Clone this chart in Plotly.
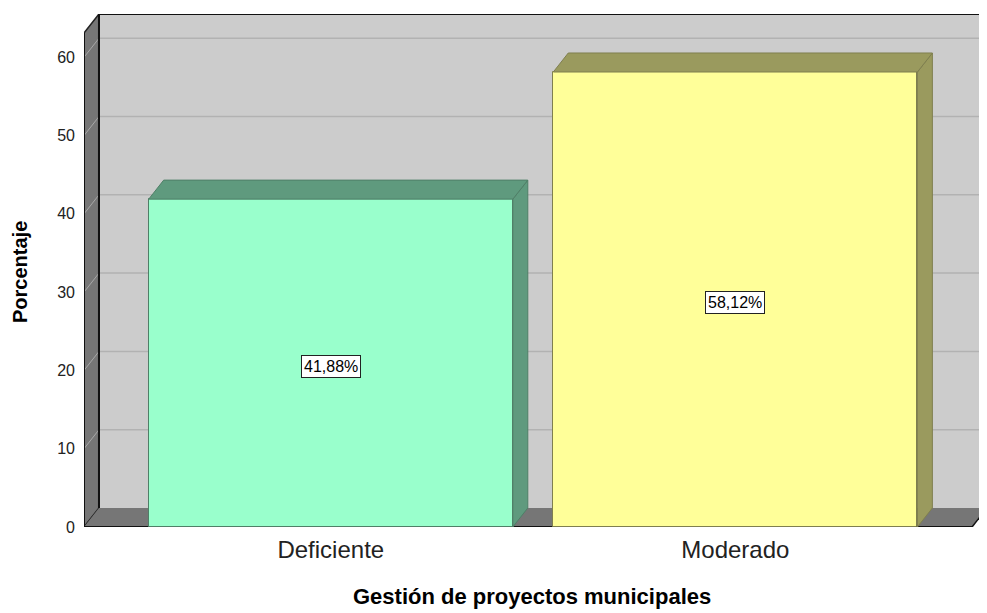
import plotly.graph_objects as go

categories = ["Deficiente", "Moderado"]
values = [41.88, 58.12]
labels = ["41,88%", "58,12%"]
y_ticks = [0, 10, 20, 30, 40, 50, 60]

front_colors = ["#99FFCC", "#FFFF99"]
side_colors = ["#5F9A7E", "#9A9A5E"]
edge_colors = ["#4F7F67", "#7F7F4F"]

# 3D geometry (data units)
XL, XR = -0.61, 1.585
DX, DY = 0.037, 2.43
YT = 63.1
W = 0.9

FONT = "Liberation Sans, Arial, sans-serif"

fig = go.Figure()

shapes = []
# back plane
shapes.append(dict(type="rect", xref="x", yref="y", x0=XL + DX, x1=XR + DX + 0.2, y0=DY, y1=YT + DY,
                   fillcolor="#CCCCCC", line=dict(width=0), layer="below"))
# back gridlines
for v in y_ticks[1:]:
    shapes.append(dict(type="line", xref="x", yref="y", x0=XL + DX, x1=XR + DX + 0.2, y0=v + DY, y1=v + DY,
                       line=dict(color="#B2B2B2", width=1.5), layer="below"))
# left wall
shapes.append(dict(type="path", xref="x", yref="y",
                   path=f"M {XL},0 L {XL},{YT} L {XL+DX},{YT+DY} L {XL+DX},{DY} Z",
                   fillcolor="#767676", line=dict(color="#222222", width=1.5), layer="below"))
for v in y_ticks[1:]:
    shapes.append(dict(type="line", xref="x", yref="y", x0=XL, x1=XL + DX, y0=v, y1=v + DY,
                       line=dict(color="#A8A8A8", width=1), layer="below"))
# floor
shapes.append(dict(type="path", xref="x", yref="y",
                   path=f"M {XL},0 L {XR},0 L {XR+DX},{DY} L {XL+DX},{DY} Z",
                   fillcolor="#767676", line=dict(width=0), layer="below"))
shapes.append(dict(type="line", xref="x", yref="y", x0=XL, x1=XR, y0=0, y1=0,
                   line=dict(color="#111111", width=2), layer="below"))
shapes.append(dict(type="line", xref="x", yref="y", x0=XR, x1=XR + DX, y0=0, y1=DY,
                   line=dict(color="#111111", width=1.5), layer="below"))
# wall back edge and top border
shapes.append(dict(type="line", xref="x", yref="y", x0=XL + DX, x1=XL + DX, y0=DY, y1=YT + DY,
                   line=dict(color="#111111", width=2), layer="below"))
shapes.append(dict(type="line", xref="x", yref="y", x0=XL + DX, x1=XR + DX + 0.2, y0=YT + DY, y1=YT + DY,
                   line=dict(color="#111111", width=2), layer="below"))
shapes.append(dict(type="line", xref="x", yref="y", x0=XL, x1=XL, y0=0, y1=YT,
                   line=dict(color="#111111", width=2), layer="below"))

# bars (front faces)
xs = list(range(len(categories)))
fig.add_trace(go.Bar(x=xs, y=values, width=W, marker=dict(color=front_colors,
                     line=dict(color=edge_colors, width=1)), hoverinfo="skip", showlegend=False))

# side and top faces
for i, v in enumerate(values):
    xr = i + W / 2
    xl = i - W / 2
    fig.add_trace(go.Scatter(x=[xr, xr + DX, xr + DX, xr, xr], y=[0, DY, v + DY, v, 0],
                             fill="toself", fillcolor=side_colors[i], mode="lines",
                             line=dict(color=edge_colors[i], width=1), hoverinfo="skip", showlegend=False))
    fig.add_trace(go.Scatter(x=[xl, xl + DX, xr + DX, xr, xl], y=[v, v + DY, v + DY, v, v],
                             fill="toself", fillcolor=side_colors[i], mode="lines",
                             line=dict(color=edge_colors[i], width=1), hoverinfo="skip", showlegend=False))

annotations = []
for i, v in enumerate(values):
    annotations.append(dict(x=i, y=v / 2 - 0.4, xref="x", yref="y", text=labels[i], showarrow=False,
                            xanchor="center", yanchor="middle",
                            font=dict(family=FONT, size=16, color="#000000"),
                            bgcolor="#FFFFFF", bordercolor="#222222", borderwidth=1, borderpad=2))
# axis titles (paper coords; page has 8px body margin)
annotations.append(dict(x=(532 - 84) / (987 - 84), y=-(597 - 527) / (527 - 14), xref="paper", yref="paper",
                        xanchor="center", yanchor="middle",
                        text="<b>Gestión de proyectos municipales</b>", showarrow=False,
                        font=dict(family=FONT, size=22, color="#000000")))
annotations.append(dict(x=-(84 - 20) / (987 - 84), y=(527 - 272) / (527 - 14), xref="paper", yref="paper",
                        xanchor="center", yanchor="middle",
                        textangle=-90, text="<b>Porcentaje</b>", showarrow=False,
                        font=dict(family=FONT, size=20, color="#000000")))

BODY = 8  # default page margin around the figure
fig.update_layout(
    width=987 - BODY, height=613 - BODY,
    margin=dict(l=84 - BODY, r=0, t=14 - BODY, b=86),
    paper_bgcolor="#FFFFFF", plot_bgcolor="#FFFFFF",
    shapes=shapes, annotations=annotations,
    bargap=0,
    xaxis=dict(range=[XL, XR + DX], tickvals=xs, ticktext=categories, showgrid=False,
               zeroline=False, showline=False, ticks="", ticklabelstandoff=6,
               tickfont=dict(family=FONT, size=24, color="#222222")),
    yaxis=dict(range=[0, YT + DY], tickvals=y_ticks, showgrid=False, zeroline=False,
               showline=False, ticks="", ticklabelstandoff=8,
               tickfont=dict(family=FONT, size=16, color="#222222")),
)

fig.write_html("out.html")
